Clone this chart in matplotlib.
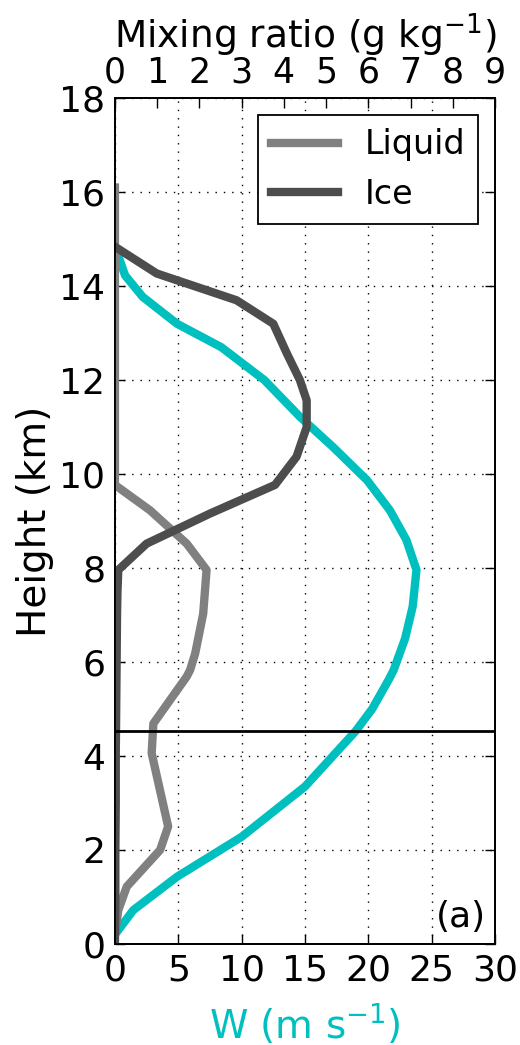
import matplotlib
matplotlib.use("Agg")
import matplotlib.pyplot as plt

# updraft profile
w_height = [0.2, 0.72, 1.43, 2.28, 3.35, 4.0, 4.53, 5.0, 5.62, 5.83, 6.5, 7.18, 7.96,
            8.6, 9.23, 9.87, 10.58, 11.22, 12.0, 12.7, 13.2, 13.77, 14.23,
            14.62, 14.75]
w_speed = [0.0, 1.45, 4.9, 10.0, 15.0, 17.2, 19.0, 20.3, 21.6, 22.0, 22.9, 23.5, 23.8,
           23.0, 21.7, 19.9, 17.2, 14.6, 11.8, 8.4, 4.9, 2.2, 0.8, 0.3, 0.0]

# hydrometeor mixing ratios
liq_height = [0.2, 0.72, 1.22, 2.0, 2.5, 4.06, 4.69, 5.69, 5.83, 6.18, 7.03, 7.96,
              8.52, 9.23, 9.77, 12.0, 14.0, 16.1]
liq_q = [0.0, 0.08, 0.28, 1.07, 1.26, 0.87, 0.91, 1.7, 1.78, 1.9, 2.09, 2.17,
         1.7, 0.83, 0.0, 0.0, 0.0, 0.0]

ice_height = [0.0, 1.0, 2.0, 3.0, 4.0, 5.0, 6.0, 7.0, 7.5, 7.96, 8.52, 9.16, 9.77,
              10.37, 11.0, 11.57, 12.0, 12.57, 13.2, 13.7, 14.27, 14.84]
ice_q = [0.0, 0.01, 0.01, 0.02, 0.02, 0.03, 0.04, 0.05, 0.06, 0.08, 0.75, 2.25,
         3.79, 4.3, 4.54, 4.54, 4.38, 4.07, 3.75, 2.88, 0.99, 0.0]

melt_level = 4.53

fig = plt.figure(figsize=(5.2, 10.45), dpi=100)
ax = fig.add_axes([0.221, 0.0967, 0.731, 0.8093])

ax.plot(w_speed, w_height, color='c', lw=6)
ax.set_xlim(0, 30)
ax.set_ylim(0, 18)
ax.set_xticks(range(0, 31, 5))
ax.set_yticks(range(0, 19, 2))
ax.grid(True, color='k', linestyle=(0, (1, 5)), lw=1)
ax.set_xlabel(r'W (m s$^{-1}$)', color='c', fontsize=28, labelpad=10)
ax.set_ylabel('Height (km)', fontsize=28, labelpad=4)
ax.tick_params(axis='both', direction='in', length=7, width=1, labelsize=26, pad=7)
ax.tick_params(axis='y', right=True)
ax.tick_params(axis='x', top=False)

ax2 = ax.twiny()
ax2.plot(liq_q, liq_height, color='0.5', lw=6, label='Liquid')
ax2.plot(ice_q, ice_height, color='0.3', lw=6, label='Ice')
ax2.axhline(melt_level, color='k', lw=2)
ax2.set_xlim(0, 9)
ax2.set_ylim(0, 18)
ax2.set_xticks(range(0, 10))
ax2.set_xlabel(r'Mixing ratio (g kg$^{-1}$)', fontsize=27, labelpad=6)
ax2.tick_params(axis='x', direction='in', length=7, width=1, labelsize=25, pad=6)

for a in (ax, ax2):
    for s in a.spines.values():
        s.set_linewidth(1.3)

leg = ax2.legend(loc='upper right', fontsize=24, fancybox=False, edgecolor='k',
                 framealpha=1, handlelength=2.0, borderaxespad=0.5)
leg.get_frame().set_linewidth(1.3)

ax2.text(0.975, 0.012, '(a)', transform=ax2.transAxes, ha='right', va='bottom',
         fontsize=26)

fig.savefig('out.png', dpi=100)
